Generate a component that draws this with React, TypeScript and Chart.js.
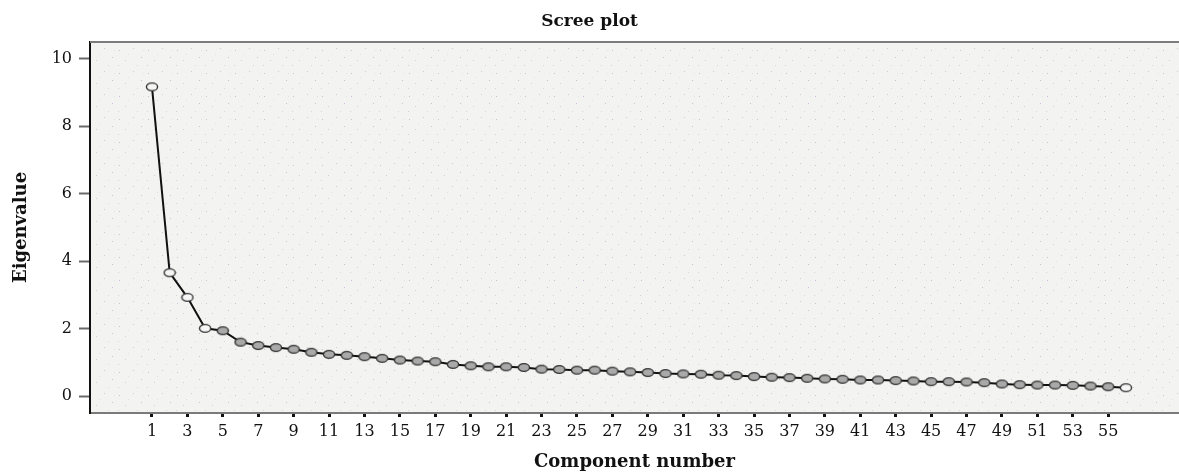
import React, { useEffect, useRef } from "react";
import { Chart, registerables } from "chart.js";

Chart.register(...registerables);

const eigenvalues = [
  9.17, 3.66, 2.93, 2.01, 1.94, 1.6, 1.5, 1.44, 1.39, 1.3,
  1.24, 1.21, 1.17, 1.12, 1.07, 1.04, 1.02, 0.94, 0.9, 0.87,
  0.87, 0.85, 0.8, 0.79, 0.77, 0.77, 0.74, 0.72, 0.7, 0.67,
  0.66, 0.65, 0.62, 0.61, 0.58, 0.56, 0.55, 0.53, 0.51, 0.5,
  0.48, 0.48, 0.46, 0.45, 0.43, 0.43, 0.42, 0.4, 0.36, 0.34,
  0.33, 0.33, 0.32, 0.3, 0.28, 0.25,
];
const xTickValues = [
  1, 3, 5, 7, 9, 11, 13, 15, 17, 19, 21, 23, 25, 27, 29, 31, 33, 35, 37,
  39, 41, 43, 45, 47, 49, 51, 53, 55,
];
const yTickValues = [0, 2, 4, 6, 8, 10];
const hollowPoints = [1, 2, 3, 4, 56];

const FONT = "'DejaVu Serif', serif";

function makeMarker(fill: string): HTMLCanvasElement {
  const c = document.createElement("canvas");
  c.width = 14;
  c.height = 11;
  const ctx = c.getContext("2d")!;
  ctx.beginPath();
  ctx.ellipse(7, 5.5, 5.6, 3.9, 0, 0, Math.PI * 2);
  ctx.fillStyle = fill;
  ctx.fill();
  ctx.lineWidth = 1.4;
  ctx.strokeStyle = "#333333";
  ctx.stroke();
  return c;
}

function makeTexture(ctx: CanvasRenderingContext2D): CanvasPattern | string {
  const t = document.createElement("canvas");
  t.width = 29;
  t.height = 23;
  const c = t.getContext("2d")!;
  c.fillStyle = "#f3f3f1";
  c.fillRect(0, 0, 29, 23);
  const dots: [number, number, string][] = [
    [3, 4, "#d6bcdc"], [17, 2, "#c3d2d6"], [25, 11, "#d2bcd9"],
    [9, 14, "#c8d4d9"], [21, 19, "#d5dcdf"], [12, 8, "#dde2e2"],
    [2, 19, "#cdd7db"], [27, 4, "#e0e4e4"],
  ];
  dots.forEach(([x, y, col]) => {
    c.fillStyle = col;
    c.fillRect(x, y, 1, 1);
  });
  return ctx.createPattern(t, "repeat") || "#f3f3f1";
}

const areaPlugin = {
  id: "areaPlugin",
  beforeDraw(chart: any) {
    const { ctx, chartArea } = chart;
    ctx.save();
    ctx.fillStyle = makeTexture(ctx);
    ctx.fillRect(chartArea.left, chartArea.top, chartArea.right - chartArea.left, chartArea.bottom - chartArea.top);
    ctx.restore();
  },
  afterDraw(chart: any) {
    const { ctx, chartArea } = chart;
    ctx.save();
    ctx.strokeStyle = "#7c7c7c";
    ctx.lineWidth = 2;
    ctx.beginPath();
    ctx.moveTo(chartArea.left, chartArea.top);
    ctx.lineTo(chartArea.right, chartArea.top);
    ctx.stroke();
    ctx.restore();
  },
};

export default function App() {
  const ref = useRef<HTMLCanvasElement>(null);

  useEffect(() => {
    document.body.style.margin = "0";
    const grayMarker = makeMarker("#a9a9a9");
    const whiteMarker = makeMarker("#f6f6f6");
    const data = eigenvalues.map((v, i) => ({ x: i + 1, y: v }));
    const chart = new Chart(ref.current!, {
      type: "line",
      data: {
        datasets: [
          {
            data,
            borderColor: "#111111",
            borderWidth: 2,
            pointStyle: (ctx: any) =>
              hollowPoints.includes(ctx.dataIndex + 1) ? whiteMarker : grayMarker,
            pointRadius: 5,
            tension: 0,
          },
        ],
      },
      options: {
        responsive: false,
        animation: false,
        layout: { padding: 0, autoPadding: false },
        plugins: {
          legend: { display: false },
          tooltip: { enabled: false },
          title: {
            display: true,
            text: "Scree plot",
            color: "#111",
            font: { family: FONT, size: 17, weight: "bold" },
            padding: { top: 11, bottom: 10.6 },
          },
        },
        scales: {
          x: {
            type: "linear",
            min: -2.5,
            max: 59,
            afterBuildTicks: (scale: any) => {
              scale.ticks = xTickValues.map((v) => ({ value: v }));
            },
            afterFit: (scale: any) => {
              scale.height = 60;
              scale.paddingLeft = 0;
              scale.paddingRight = 0;
            },
            ticks: {
              autoSkip: false,
              maxRotation: 0,
              color: "#111",
              padding: 5,
              font: { family: FONT, size: 16 },
            },
            grid: {
              drawOnChartArea: false,
              drawTicks: true,
              tickLength: 4,
              tickWidth: 3,
              tickColor: "#111",
            },
            border: { display: true, color: "#7a7a7a", width: 2 },
            title: {
              display: true,
              text: "Component number",
              color: "#111",
              font: { family: FONT, size: 18, weight: "bold" },
              padding: { top: 0, bottom: 0 },
            },
          },
          y: {
            type: "linear",
            min: -0.5,
            max: 10.5,
            afterBuildTicks: (scale: any) => {
              scale.ticks = yTickValues.map((v) => ({ value: v }));
            },
            afterFit: (scale: any) => {
              scale.width = 90;
              scale.paddingTop = 0;
              scale.paddingBottom = 0;
            },
            ticks: {
              color: "#111",
              padding: 7,
              font: { family: FONT, size: 16 },
            },
            grid: {
              drawOnChartArea: false,
              drawTicks: true,
              tickLength: 11,
              tickWidth: 2,
              tickColor: "#6a6a6a",
            },
            border: { display: true, color: "#111", width: 2 },
            title: {
              display: true,
              text: "Eigenvalue",
              color: "#111",
              font: { family: FONT, size: 18, weight: "bold" },
              padding: { top: 11, bottom: 0 },
            },
          },
        },
      },
      plugins: [areaPlugin],
    } as any);
    return () => chart.destroy();
  }, []);

  return (
    <div style={{ width: 1179, height: 473 }}>
      <canvas ref={ref} width={1179} height={473} />
    </div>
  );
}
